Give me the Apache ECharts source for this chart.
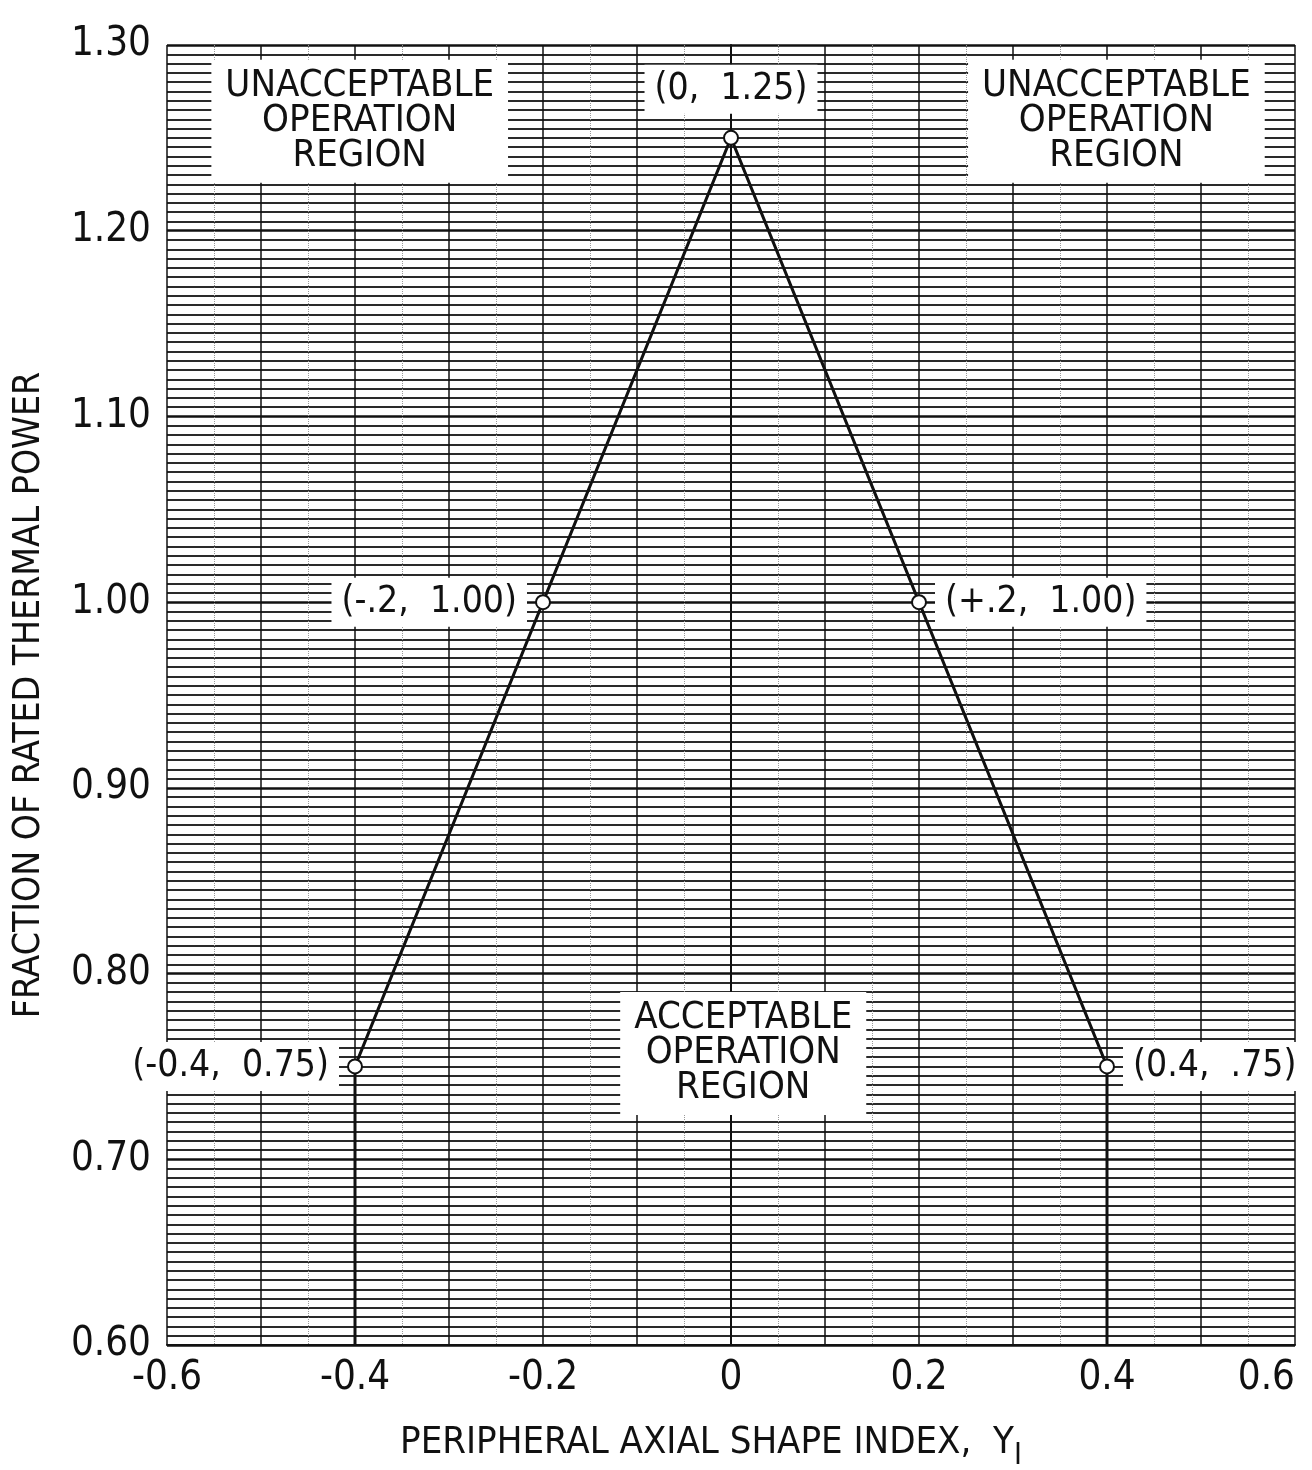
<!DOCTYPE html>
<html>
<head>
<meta charset="utf-8">
<script src="https://cdn.jsdelivr.net/npm/echarts@6/dist/echarts.min.js"></script>
<style>
  html, body { margin: 0; padding: 0; background: #fff; }
  #chart { width: 1312px; height: 1470px; }
</style>
</head>
<body>
<div id="chart"></div>
<script>
// envelope of acceptable operation (breakpoints + drop lines to the x axis)
const envelopeX = [-0.4, -0.4, -0.2, 0, 0.2, 0.4, 0.4]
const envelopeY = [0.60, 0.75, 1.00, 1.25, 1.00, 0.75, 0.60]
const pointLabels = ['', '(-0.4,  0.75)', '(-.2,  1.00)', '(0,  1.25)', '(+.2,  1.00)', '(0.4,  .75)', '']

// region annotations
const regionText = [
  'UNACCEPTABLE\nOPERATION\nREGION',
  'UNACCEPTABLE\nOPERATION\nREGION',
  'ACCEPTABLE\nOPERATION\nREGION'
]
const regionX = [-0.395, 0.41, 0.013]
const regionY = [1.259, 1.259, 0.757]

const narrow = '"Liberation Sans Narrow", "DejaVu Sans Condensed", "Liberation Sans", sans-serif'
const ink = '#111'

const chart = echarts.init(document.getElementById('chart'), null, { renderer: 'canvas' })

const envelopeData = envelopeX.map((x, i) => {
  const txt = pointLabels[i]
  const item = { value: [x, envelopeY[i]] }
  if (!txt) {
    item.symbol = 'none'
    item.label = { show: false }
  } else {
    item.label = {
      show: true,
      formatter: txt,
      position: x < 0 ? 'left' : (x > 0 ? 'right' : 'top'),
      distance: x === 0 ? 16 : 8
    }
  }
  return item
})

chart.setOption({
  animation: false,
  backgroundColor: '#fff',
  grid: { left: 167, right: 17, top: 45, bottom: 125, containLabel: false, outerBoundsMode: 'none' },
  xAxis: {
    type: 'value',
    min: -0.6,
    max: 0.6,
    interval: 0.1,
    name: 'PERIPHERAL AXIAL SHAPE INDEX,  Y{sub|I}',
    nameLocation: 'middle',
    nameGap: 70,
    nameTextStyle: {
      color: ink,
      fontFamily: narrow,
      fontSize: 38,
      padding: [0, 40, 0, 0],
      rich: { sub: { fontFamily: narrow, fontSize: 30, color: ink, padding: [26, 0, 0, 0] } }
    },
    axisLine: { show: true, lineStyle: { color: ink, width: 2 } },
    axisTick: { show: false },
    axisLabel: {
      color: ink,
      fontFamily: narrow,
      fontSize: 40,
      margin: 14,
      alignMaxLabel: 'right',
      formatter: (v) => {
        const k = Math.round(v * 10)
        if (k % 2 !== 0) return ''
        return k === 0 ? '0' : v.toFixed(1)
      }
    },
    splitLine: { show: true, lineStyle: { color: ink, width: 1.5 } },
    minorTick: { show: false, splitNumber: 2 },
    minorSplitLine: { show: true, lineStyle: { color: '#999', width: 1, type: 'dotted' } }
  },
  yAxis: {
    type: 'value',
    min: 0.6,
    max: 1.3,
    interval: 0.1,
    name: 'FRACTION OF RATED THERMAL POWER',
    nameLocation: 'middle',
    nameGap: 119,
    nameTextStyle: { color: ink, fontFamily: narrow, fontSize: 37 },
    axisLine: { show: true, lineStyle: { color: ink, width: 2 } },
    axisTick: { show: false },
    axisLabel: {
      color: ink,
      fontFamily: narrow,
      fontSize: 40,
      margin: 16,
      formatter: (v) => v.toFixed(2)
    },
    splitLine: { show: true, lineStyle: { color: ink, width: 2.5 } },
    minorTick: { show: false, splitNumber: 20 },
    minorSplitLine: { show: true, lineStyle: { color: '#2a2a2a', width: 2 } }
  },
  series: [
    {
      type: 'line',
      data: envelopeData,
      symbol: 'emptyCircle',
      symbolSize: 14,
      lineStyle: { color: ink, width: 3 },
      itemStyle: { color: ink, borderColor: ink, borderWidth: 2 },
      label: {
        color: ink,
        fontFamily: narrow,
        fontSize: 37,
        backgroundColor: '#fff',
        padding: [6, 10]
      },
      emphasis: { disabled: true },
      z: 3
    },
    {
      type: 'scatter',
      data: regionX.map((x, i) => ({ value: [x, regionY[i]], label: { formatter: regionText[i] } })),
      symbolSize: 1,
      itemStyle: { color: '#fff', opacity: 1 },
      label: {
        show: true,
        position: 'inside',
        color: ink,
        fontFamily: narrow,
        fontSize: 38,
        lineHeight: 35,
        align: 'center',
        backgroundColor: '#fff',
        padding: [10, 14, 8, 14]
      },
      emphasis: { disabled: true },
      z: 4
    }
  ]
})
</script>
</body>
</html>
